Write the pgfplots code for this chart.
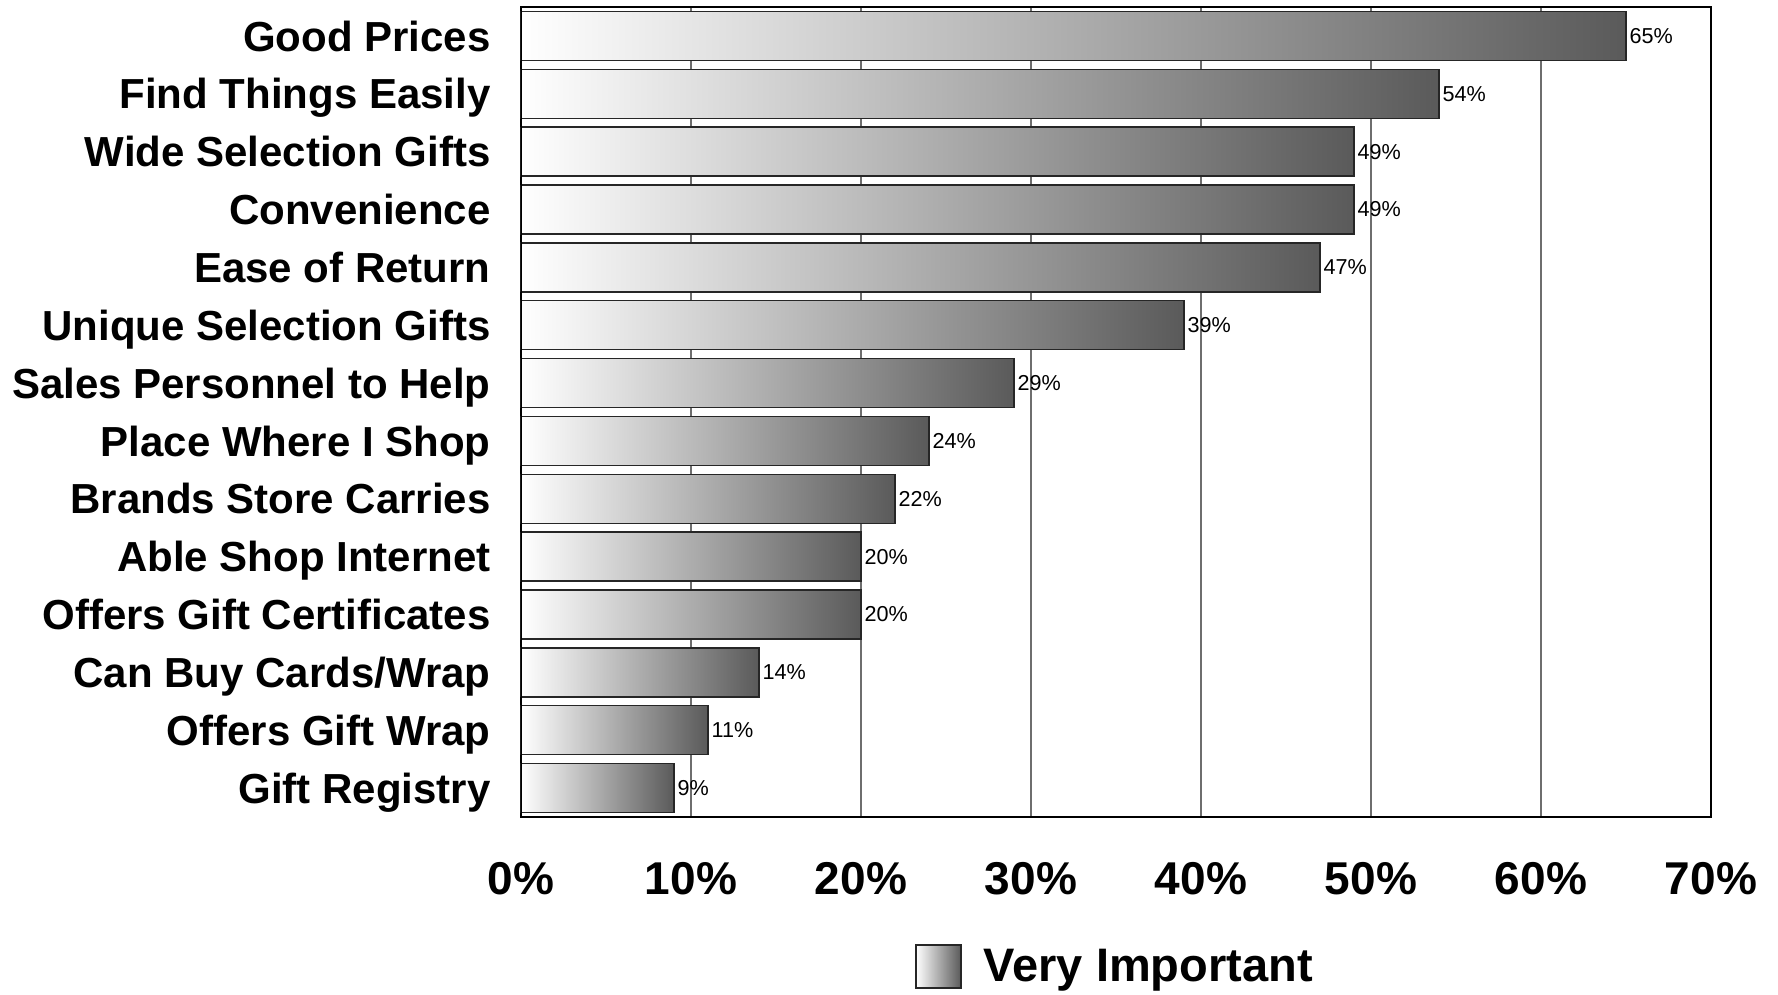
\documentclass[border=0pt]{standalone}
\usepackage{pgfplots}
\pgfplotsset{compat=1.18}
\usepackage{fontspec}
\setmainfont{Liberation Sans}
\definecolor{bardark}{HTML}{5A5A5A}
\definecolor{gridgray}{HTML}{6E6E6E}
% every bar is its own plot so that each one carries its own white-to-grey shading
\pgfplotsset{
  shadedbar/.style={draw=black!85, line width=0.7pt, left color=white, right color=bardark},
}
\begin{document}
\begin{tikzpicture}
\path[use as bounding box] (-260.5pt,-89pt) rectangle (628.5pt,408.5pt);
\begin{axis}[
  at={(0,0)}, anchor=south west,
  scale only axis, width=595pt, height=405pt,
  xbar, bar width=24.5pt, bar shift=0pt,
  xmin=0, xmax=70, ymin=-0.5, ymax=13.5, y dir=reverse,
  xtick={0,10,...,70},
  xticklabels={0\%,10\%,20\%,30\%,40\%,50\%,60\%,70\%},
  ytick={0,...,13},
  yticklabels={Good Prices,Find Things Easily,Wide Selection Gifts,Convenience,Ease of Return,Unique Selection Gifts,Sales Personnel to Help,Place Where I Shop,Brands Store Carries,Able Shop Internet,Offers Gift Certificates,Can Buy Cards/Wrap,Offers Gift Wrap,Gift Registry},
  major tick length=0pt,
  xmajorgrids, major grid style={gridgray, line width=0.55pt},
  axis line style={black, line width=0.6pt},
  xticklabel style={font=\fontsize{23}{23}\selectfont\bfseries, yshift=-19.3pt},
  yticklabel style={font=\fontsize{21}{21}\selectfont\bfseries, inner sep=0pt,
    anchor=base east, xshift=-15pt, yshift=-7.6pt},
  point meta=x,
  nodes near coords={\pgfmathprintnumber[assume math mode=true]{\pgfplotspointmeta}\%},
  nodes near coords style={font=\fontsize{10.8}{10.8}\selectfont, anchor=west, inner sep=1pt, xshift=0.5pt},
  legend style={draw=none, fill=none, at={(0.331,0)}, anchor=north west, yshift=-63.5pt,
    inner sep=0pt, column sep=9pt, font=\fontsize{23.5}{23.5}\selectfont\bfseries},
  legend image code/.code={
    \draw[draw=black!85, line width=0.7pt, left color=white, right color=bardark]
      (0pt,-10.75pt) rectangle (22.5pt,10.75pt);},
]
\addplot[shadedbar] coordinates {(65,0)};
\addlegendentry{Very Important}
\addplot[shadedbar, forget plot] coordinates {(54,1)};
\addplot[shadedbar, forget plot] coordinates {(49,2)};
\addplot[shadedbar, forget plot] coordinates {(49,3)};
\addplot[shadedbar, forget plot] coordinates {(47,4)};
\addplot[shadedbar, forget plot] coordinates {(39,5)};
\addplot[shadedbar, forget plot] coordinates {(29,6)};
\addplot[shadedbar, forget plot] coordinates {(24,7)};
\addplot[shadedbar, forget plot] coordinates {(22,8)};
\addplot[shadedbar, forget plot] coordinates {(20,9)};
\addplot[shadedbar, forget plot] coordinates {(20,10)};
\addplot[shadedbar, forget plot] coordinates {(14,11)};
\addplot[shadedbar, forget plot] coordinates {(11,12)};
\addplot[shadedbar, forget plot] coordinates {(9,13)};
% heavier left and bottom axis lines
\draw[black, line width=1.3pt] (rel axis cs:0,1) -- (rel axis cs:0,0) -- (rel axis cs:1,0);
\end{axis}
\end{tikzpicture}
\end{document}
